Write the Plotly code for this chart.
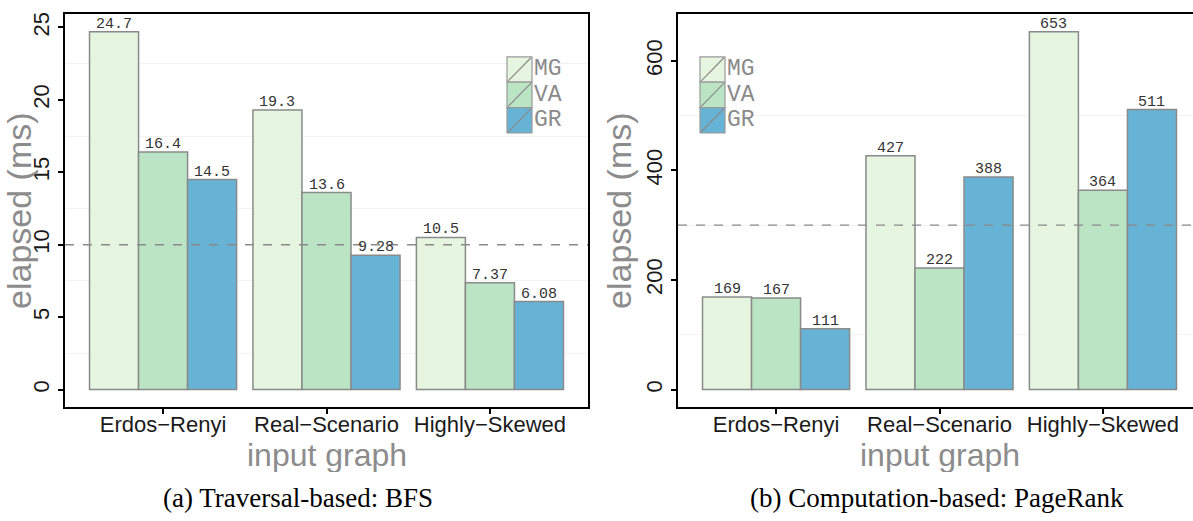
import plotly.graph_objects as go

# ---- data ----
graphs = ["Erdos\u2212Renyi", "Real\u2212Scenario", "Highly\u2212Skewed"]
systems = ["MG", "VA", "GR"]

bfs_mg = [24.7, 19.3, 10.5]
bfs_va = [16.4, 13.6, 7.37]
bfs_gr = [14.5, 9.28, 6.08]

pr_mg = [169, 427, 653]
pr_va = [167, 222, 364]
pr_gr = [111, 388, 511]

bfs_ref = 10
pr_ref = 300

bfs_ticks = [0, 5, 10, 15, 20, 25]
pr_ticks = [0, 200, 400, 600]

# ---- style ----
W, H = 1193, 521
fills = {"MG": "#e5f5e0", "VA": "#bae4c3", "GR": "#67b3d6"}
edge = "#8a8a8a"
grey_text = "#8c8c8c"
mono = "Liberation Mono, DejaVu Sans Mono, monospace"
sans = "Liberation Sans, Arial, sans-serif"
serif = "Liberation Serif, Times New Roman, serif"
group_width = 0.9
bar_w = group_width / len(systems)


def px_x(p):
    return p / W


def px_y(p):
    return 1 - p / H


fig = go.Figure()

panels = [
    ("x", "y", [bfs_mg, bfs_va, bfs_gr]),
    ("x2", "y2", [pr_mg, pr_va, pr_gr]),
]
for xa, ya, series in panels:
    for k, (name, vals) in enumerate(zip(systems, series)):
        fig.add_trace(go.Bar(
            x=graphs, y=vals, name=name, xaxis=xa, yaxis=ya,
            marker=dict(color=fills[name], line=dict(color=edge, width=1.5)),
            showlegend=False,
        ))
        # value labels sitting on top of each dodged bar
        offset = (k - (len(systems) - 1) / 2) * bar_w
        for i, v in enumerate(vals):
            fig.add_annotation(
                xref=xa, yref=ya, x=i + offset, y=v, text=f"{v:g}",
                showarrow=False, xanchor="center", yanchor="bottom", yshift=-3,
                font=dict(family=mono, size=15, color="#333333"),
            )


def expanded(vmax):
    return [-0.05 * vmax, 1.05 * vmax]


left_dom = [px_x(65), px_x(588)]
right_dom = [px_x(678), 1.0]
ydom = [px_y(407), px_y(12)]
unit_px = (588 - 65) / 3.2
right_hi = -0.6 + (W - 678) / unit_px

xcommon = dict(
    type="category", showline=True, linecolor="black", linewidth=2,
    ticks="outside", ticklen=5, tickwidth=1.5, tickcolor="black",
    tickfont=dict(family=sans, size=22, color="#1a1a1a"), ticklabelstandoff=-9,
    showgrid=False, zeroline=False,
)
ycommon = dict(
    showline=True, linecolor="black", linewidth=2,
    ticks="outside", ticklen=5, tickwidth=1.5, tickcolor="black",
    tickfont=dict(family=sans, size=22, color="#1a1a1a"), tickangle=-90,
    showgrid=False, zeroline=False,
    title=dict(text="elapsed (ms)", font=dict(family=sans, size=34, color=grey_text), standoff=0),
)

all_vals_l = bfs_mg + bfs_va + bfs_gr
all_vals_r = pr_mg + pr_va + pr_gr

fig.update_layout(
    width=W, height=H, margin=dict(l=0, r=0, t=0, b=0),
    paper_bgcolor="white", plot_bgcolor="white",
    barmode="group", bargap=1 - group_width, bargroupgap=0,
    xaxis=dict(domain=left_dom, anchor="y", range=[-0.6, 2.6], mirror=True, **xcommon),
    yaxis=dict(domain=ydom, anchor="x", range=expanded(max(all_vals_l)), mirror=True,
               tickvals=bfs_ticks,
               minor=dict(tickvals=[2.5, 7.5, 12.5, 17.5, 22.5], showgrid=True,
                          gridcolor="#f3f3f3", gridwidth=1, ticks=""),
               **ycommon),
    xaxis2=dict(domain=right_dom, anchor="y2", range=[-0.6, right_hi], mirror=True, **xcommon),
    yaxis2=dict(domain=ydom, anchor="x2", range=expanded(max(all_vals_r)), mirror=False,
                tickvals=pr_ticks,
                minor=dict(tickvals=[100, 300, 500], showgrid=True,
                           gridcolor="#f3f3f3", gridwidth=1, ticks=""),
                **ycommon),
)

# x-axis titles, centred under each panel's categories
for xa in ("x", "x2"):
    fig.add_annotation(xref=xa, yref="paper", x=1, y=px_y(455), text="input graph",
                       showarrow=False, xanchor="center", yanchor="middle",
                       font=dict(family=sans, size=32, color=grey_text),
                       height=34, borderpad=0)

# reference levels
for xa, ya, level in [("x", "y", bfs_ref), ("x2", "y2", pr_ref)]:
    fig.add_shape(type="line", xref=f"{xa} domain", yref=ya, x0=0, x1=1, y0=level, y1=level,
                  line=dict(color="#8a8a8a", width=1.3, dash="dash"), layer="above")

# in-panel legends: filled keys with a diagonal stroke and the system name
for x0 in (507, 700):
    top = 55
    for i, name in enumerate(systems):
        y0 = top + i * 25.5
        y1 = y0 + 25.5
        fig.add_shape(type="rect", xref="paper", yref="paper",
                      x0=px_x(x0), x1=px_x(x0 + 25), y0=px_y(y1), y1=px_y(y0),
                      fillcolor=fills[name], line=dict(color="#9a9a9a", width=1.2))
        fig.add_shape(type="line", xref="paper", yref="paper",
                      x0=px_x(x0 + 1), x1=px_x(x0 + 24), y0=px_y(y1 - 1), y1=px_y(y0 + 1),
                      line=dict(color="#8a8a8a", width=1.2))
        fig.add_annotation(xref="paper", yref="paper", x=px_x(x0 + 26), y=px_y((y0 + y1) / 2),
                           text=name, showarrow=False, xanchor="left", yanchor="middle",
                           font=dict(family=mono, size=23, color="#8a8a8a"),
                           height=24, borderpad=0)

# sub-figure captions
fig.add_annotation(xref="paper", yref="paper", x=px_x(298), y=px_y(498),
                   text="(a) Traversal-based: BFS", showarrow=False,
                   xanchor="center", yanchor="middle",
                   font=dict(family=serif, size=27, color="black"))
fig.add_annotation(xref="paper", yref="paper", x=px_x(937), y=px_y(498),
                   text="(b) Computation-based: PageRank", showarrow=False,
                   xanchor="center", yanchor="middle",
                   font=dict(family=serif, size=27, color="black"))

fig.write_html("out.html")
